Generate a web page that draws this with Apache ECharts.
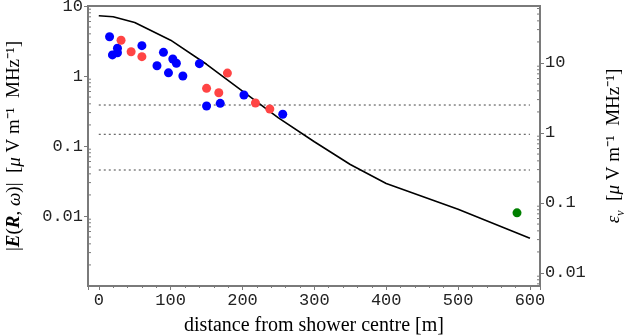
<!DOCTYPE html>
<html>
<head>
    <meta charset="utf-8">
    <title>field strength vs distance</title>
    <style>
        html, body { margin: 0; padding: 0; background: #fff; }
        #chart { width: 628px; height: 336px; }
    </style>
    <script src="https://cdn.jsdelivr.net/npm/echarts@6/dist/echarts.min.js"></script>
</head>
<body>
<div id="chart"></div>
<script>
    // simulated curve (distance in m, |E| in uV/m/MHz)
    var lineX = [0, 20, 50, 100, 150, 200, 250, 300, 350, 400, 500, 600];
    var lineY = [7.27, 7.03, 5.8, 3.25, 1.47, 0.61, 0.252, 0.115, 0.0545, 0.0292, 0.0125, 0.0048];

    // measured points
    var blueX = [15, 19, 26, 26, 60, 81, 90, 97, 103, 108, 117, 140, 150, 169, 202, 256];
    var blueY = [3.64, 2.0, 2.49, 2.15, 2.71, 1.40, 2.18, 1.11, 1.75, 1.52, 1.0, 1.50, 0.373, 0.407, 0.535, 0.284];
    var redX = [31, 45, 60, 150, 167, 179, 218, 238];
    var redY = [3.24, 2.22, 1.89, 0.667, 0.577, 1.10, 0.411, 0.338];
    var greenX = [582];
    var greenY = [0.0111];

    // dotted reference levels
    var levels = [0.385, 0.147, 0.0454];
    var levelFrom = 0, levelTo = 600;

    // axis ranges; right axis is the left one scaled by rightFactor
    var xMin = -15, xMax = 614;
    var rightFactor = 6.52;
    var leftMin = 0.001, leftMax = 10;

    // minor log ticks (2..9 in each decade)
    var minorSteps = [2, 3, 4, 5, 6, 7, 8, 9];
    var leftDecades = [0.001, 0.01, 0.1, 1];
    var rightDecades = [0.001, 0.01, 0.1, 1, 10];

    function pairs(xs, ys) {
        var out = [];
        for (var i = 0; i < xs.length; i++) out.push([xs[i], ys[i]]);
        return out;
    }

    function minorValues(decades, lo, hi) {
        var out = [];
        decades.forEach(function (d) {
            minorSteps.forEach(function (s) {
                var v = d * s;
                if (v > lo && v < hi) out.push(v);
            });
        });
        return out;
    }

    var tickFont = 'Liberation Mono';
    var titleFont = 'Liberation Serif';
    var axisGray = '#7a7a7a';

    function minorTickSeries(values, axisIdx, atX, dir) {
        return {
            type: 'custom',
            yAxisIndex: axisIdx,
            silent: true,
            data: values.map(function (v) { return [atX, v]; }),
            renderItem: function (params, api) {
                var p = api.coord([api.value(0), api.value(1)]);
                return {
                    type: 'line',
                    shape: { x1: p[0], y1: p[1], x2: p[0] + dir * 3, y2: p[1] },
                    style: { stroke: axisGray, lineWidth: 1 }
                };
            },
            z: 5
        };
    }

    var series = [];
    levels.forEach(function (v) {
        series.push({
            type: 'line',
            data: [[levelFrom, v], [levelTo, v]],
            symbol: 'none',
            silent: true,
            lineStyle: { color: '#444', width: 1, type: [2, 3] },
            z: 1
        });
    });
    series.push({
        type: 'line',
        data: pairs(lineX, lineY),
        symbol: 'none',
        lineStyle: { color: '#000', width: 1.6 },
        z: 2
    });
    series.push({
        type: 'scatter', data: pairs(blueX, blueY), symbolSize: 9,
        itemStyle: { color: '#0000ff', opacity: 1 }, z: 3
    });
    series.push({
        type: 'scatter', data: pairs(redX, redY), symbolSize: 9,
        itemStyle: { color: '#ff4444', opacity: 1 }, z: 3
    });
    series.push({
        type: 'scatter', data: pairs(greenX, greenY), symbolSize: 9,
        itemStyle: { color: '#008000', opacity: 1 }, z: 3
    });
    series.push(minorTickSeries(minorValues(leftDecades, leftMin, leftMax), 0, xMin, 1));
    series.push(minorTickSeries(minorValues(rightDecades, leftMin * rightFactor, leftMax * rightFactor), 1, xMax, -1));

    var chart = echarts.init(document.getElementById('chart'), null, { renderer: 'canvas' });
    chart.setOption({
        animation: false,
        grid: {
            left: 88, right: 88, top: 6, bottom: 50,
            containLabel: false,
            outerBoundsMode: 'none',
            show: true, borderColor: axisGray, borderWidth: 2
        },
        xAxis: {
            type: 'value',
            min: xMin,
            max: xMax,
            name: 'distance from shower centre [m]',
            nameLocation: 'middle',
            nameGap: 30,
            nameTextStyle: { fontFamily: titleFont, fontSize: 20, color: '#000' },
            axisLine: { onZero: false, lineStyle: { color: axisGray, width: 2 } },
            axisTick: { length: 4, lineStyle: { color: axisGray } },
            minorTick: { show: true, splitNumber: 5, length: 2, lineStyle: { color: axisGray } },
            splitLine: { show: false },
            axisLabel: {
                fontFamily: tickFont, fontSize: 17, color: '#222', margin: 6,
                showMinLabel: false, showMaxLabel: false
            }
        },
        yAxis: [{
            type: 'log',
            min: leftMin,
            max: leftMax,
            position: 'left',
            name: '|{bi|E}({bi|R}, {i|ω})|  [{i|μ} V m⁻¹  MHz⁻¹]',
            nameLocation: 'middle',
            nameRotate: 90,
            nameGap: 64,
            nameTextStyle: {
                fontFamily: titleFont, fontSize: 19, color: '#000',
                rich: {
                    bi: { fontFamily: titleFont, fontSize: 19, fontWeight: 'bold', fontStyle: 'italic', color: '#000' },
                    i: { fontFamily: titleFont, fontSize: 19, fontStyle: 'italic', color: '#000' }
                }
            },
            axisLine: { show: true, onZero: false, lineStyle: { color: axisGray, width: 2 } },
            axisTick: { length: 4, lineStyle: { color: axisGray } },
            splitLine: { show: false },
            axisLabel: {
                fontFamily: tickFont, fontSize: 17, color: '#222', margin: 5,
                showMinLabel: false, showMaxLabel: true
            }
        }, {
            type: 'log',
            min: leftMin * rightFactor,
            max: leftMax * rightFactor,
            position: 'right',
            name: '{i|ε}{sub|ν}  [{i|μ} V m⁻¹  MHz⁻¹]',
            nameLocation: 'middle',
            nameRotate: 90,
            nameGap: 61,
            nameTextStyle: {
                fontFamily: titleFont, fontSize: 19, color: '#000',
                rich: {
                    i: { fontFamily: titleFont, fontSize: 19, fontStyle: 'italic', color: '#000' },
                    sub: { fontFamily: titleFont, fontSize: 12, fontStyle: 'italic', color: '#000', verticalAlign: 'bottom', lineHeight: 26 }
                }
            },
            axisLine: { show: true, onZero: false, lineStyle: { color: axisGray, width: 2 } },
            axisTick: { length: 4, lineStyle: { color: axisGray } },
            splitLine: { show: false },
            axisLabel: {
                fontFamily: tickFont, fontSize: 17, color: '#222', margin: 5,
                showMinLabel: false, showMaxLabel: false
            }
        }],
        series: series
    });
</script>
</body>
</html>
